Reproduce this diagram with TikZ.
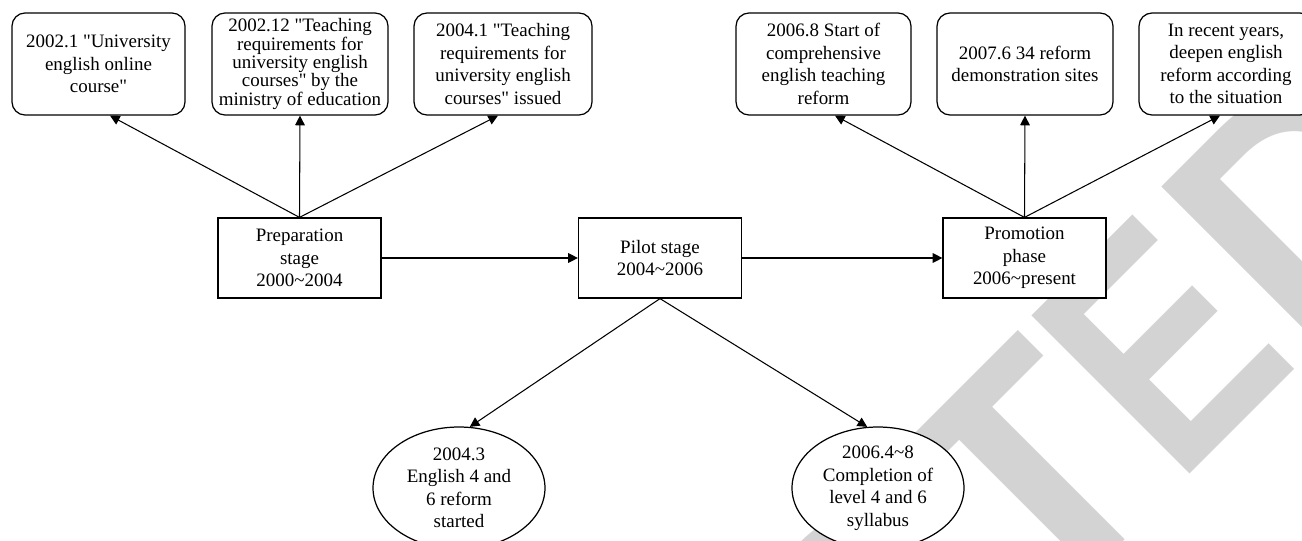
\documentclass[tikz,border=0pt]{standalone}
\usepackage{fontspec}
\setmainfont{Liberation Serif}[Ligatures=TeXOff]
\newfontfamily\wmfont{Liberation Sans}
\usetikzlibrary{arrows.meta,shapes.geometric}
\definecolor{wmgray}{RGB}{211,211,211}
\tikzset{
  rbox/.style={draw, line width=0.7pt, rounded corners=0.26cm, fill=white, minimum height=2.04cm, align=center, inner sep=0pt},
  sbox/.style={draw, line width=0.7pt, fill=white, minimum width=3.26cm, minimum height=1.6cm, align=center, inner sep=0pt},
  ebox/.style={draw, ellipse, line width=0.7pt, fill=white, minimum width=3.44cm, minimum height=2.44cm, align=center, inner sep=0pt},
  arr/.style={line width=0.6pt, -{Triangle[length=5.5pt,width=5.5pt]}},
  wm/.style={text=wmgray, font=\wmfont\bfseries\fontsize{185}{185}\selectfont, inner sep=0pt, rotate=45},
}
\begin{document}
\begin{tikzpicture}[x=0.02cm, y=-0.02cm, font=\fontsize{10.8}{12.8}\selectfont]
\useasboundingbox (0,0) rectangle (1302,541);
\clip (0,0) rectangle (1302,541);
% watermark
\node[wm, anchor=base east] (wmA) at (1038.0,626.5) {RETRAC};
\node[wm, anchor=base west] (wmT) at (1038.0,626.5) {T};
\node[wm, anchor=base west] (wmE) at (1177.3,487.2) {\scalebox{0.812}[1]{E}};
\node[wm, anchor=base west] (wmD) at (1303.9,360.6) {D};
% top boxes
\node[rbox, minimum width=3.46cm] (b1) at (98.5,64) {2002.1 "University\\english online\\course"};
\node[rbox, minimum width=3.52cm, font=\fontsize{10.8}{10.4}\selectfont] (b2) at (300,64) {2002.12 "Teaching\\requirements for\\university english\\courses" by the\\ministry of education};
\node[rbox, minimum width=3.56cm] (b3) at (503,64) {2004.1 "Teaching\\requirements for\\university english\\courses" issued};
\node[rbox, minimum width=3.5cm] (b4) at (823.5,64) {2006.8 Start of\\comprehensive\\english teaching\\reform};
\node[rbox, minimum width=3.52cm] (b5) at (1025,64) {2007.6 34 reform\\demonstration sites};
\node[rbox, minimum width=3.48cm] (b6) at (1226,64) {In recent years,\\deepen english\\reform according\\to the situation};
% stages
\node[sbox] (prep) at (299.5,258) {Preparation\\stage\\2000\textasciitilde 2004};
\node[sbox] (pilot) at (660,258) {Pilot stage\\2004\textasciitilde 2006};
\node[sbox] (promo) at (1024.5,258) {Promotion\\phase\\2006\textasciitilde present};
% ellipses
\node[ebox] (e1) at (459,488) {2004.3\\English 4 and\\6 reform\\started};
\node[ebox] (e2) at (878,488) {2006.4\textasciitilde 8\\Completion of\\level 4 and 6\\syllabus};
% connectors
\draw[arr] (prep.north) -- ([xshift=0.23cm]b1.south);
\draw[arr] (prep.north) -- (b2.south);
\draw[arr] (prep.north) -- ([xshift=-0.1cm]b3.south);
\draw[arr] (promo.north) -- ([xshift=0.23cm]b4.south);
\draw[arr] (promo.north) -- (b5.south);
\draw[arr] (promo.north) -- ([xshift=-0.12cm]b6.south);
\draw[arr] (prep.east) -- (pilot.west);
\draw[arr] (pilot.east) -- (promo.west);
\draw[arr] (pilot.south) -- (e1.80);
\draw[arr] (pilot.south) -- (e2.100);
\end{tikzpicture}
\end{document}
